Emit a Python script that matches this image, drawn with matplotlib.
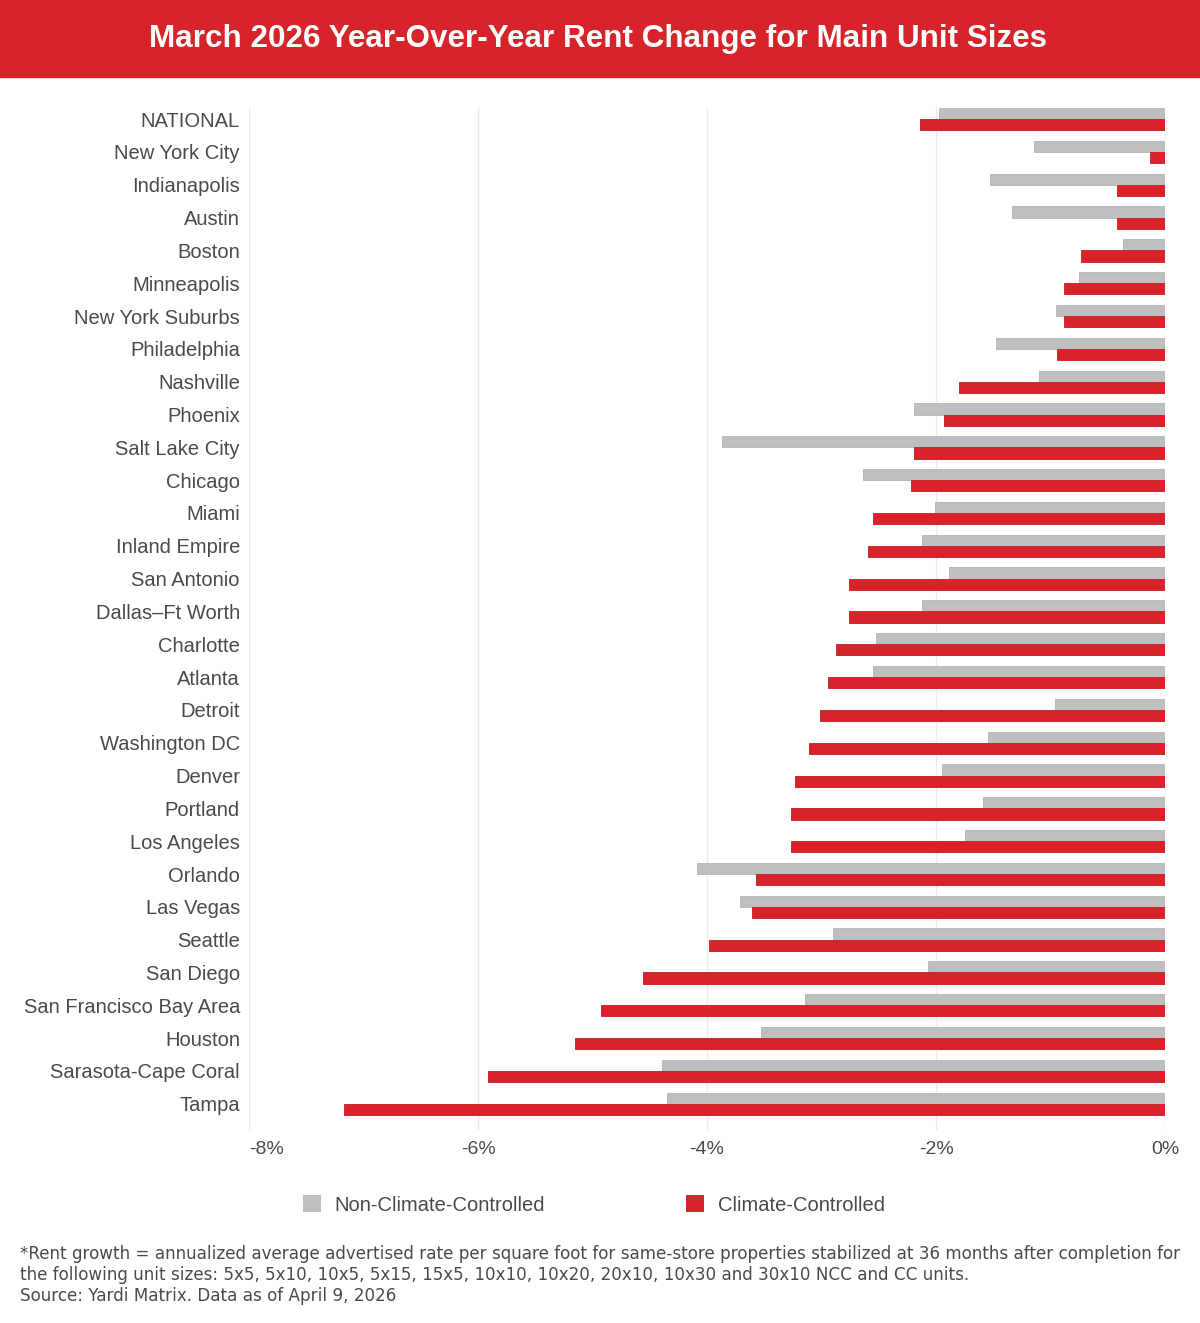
import matplotlib
matplotlib.use("Agg")
import matplotlib.pyplot as plt
import numpy as np
from matplotlib.patches import Rectangle, Patch

# --- data (percent YoY change) ---
markets = [
    "NATIONAL", "New York City", "Indianapolis", "Austin", "Boston",
    "Minneapolis", "New York Suburbs", "Philadelphia", "Nashville", "Phoenix",
    "Salt Lake City", "Chicago", "Miami", "Inland Empire", "San Antonio",
    "Dallas\u2013Ft Worth", "Charlotte", "Atlanta", "Detroit", "Washington DC",
    "Denver", "Portland", "Los Angeles", "Orlando", "Las Vegas",
    "Seattle", "San Diego", "San Francisco Bay Area", "Houston",
    "Sarasota-Cape Coral", "Tampa",
]
ncc = [-1.97, -1.14, -1.53, -1.34, -0.37, -0.75, -0.95, -1.48, -1.10, -2.19,
       -3.87, -2.64, -2.01, -2.12, -1.89, -2.12, -2.52, -2.55, -0.96, -1.55,
       -1.95, -1.59, -1.75, -4.09, -3.71, -2.90, -2.07, -3.14, -3.53, -4.39,
       -4.35]
cc = [-2.14, -0.13, -0.42, -0.42, -0.73, -0.88, -0.88, -0.94, -1.80, -1.93,
      -2.19, -2.22, -2.55, -2.59, -2.76, -2.76, -2.87, -2.94, -3.01, -3.11,
      -3.23, -3.27, -3.27, -3.57, -3.61, -3.98, -4.56, -4.93, -5.15, -5.91,
      -7.17]
xticks = [-8, -6, -4, -2, 0]
xtick_labels = ["-8%", "-6%", "-4%", "-2%", "0%"]

RED = "#D9232B"
GRAY = "#BFBFBF"
TEXT = "#4a4a4a"
SANS = "Liberation Sans"

W, H = 1200, 1323
fig = plt.figure(figsize=(W / 100, H / 100), dpi=100)

# red title banner
fig.patches.append(Rectangle((0, 1 - 77 / H), 1, 77 / H, transform=fig.transFigure,
                             color="#D7232A", zorder=0))
fig.text(598 / W, 1 - 39 / H, "March 2026 Year-Over-Year Rent Change for Main Unit Sizes",
         ha="center", va="center", color="white", fontsize=22.6, fontweight="bold",
         family=SANS)

ax = fig.add_axes([249 / W, 1 - 1130 / H, 916 / W, 1023 / H])
y = np.arange(len(markets))
h = 0.34
ax.barh(y - h / 2, ncc, height=h, color=GRAY, edgecolor="#b4b4b4", linewidth=0.6, zorder=2)
ax.barh(y + h / 2, cc, height=h, color=RED, edgecolor="#c41d24", linewidth=0.6, zorder=2)

ax.set_xlim(-8, 0)
ax.set_ylim(30.8, -0.37)
ax.set_yticks(y)
ax.set_yticklabels(markets, fontsize=14.5, color=TEXT, family=SANS)
ax.set_xticks(xticks)
ax.set_xticklabels(xtick_labels, fontsize=14, color=TEXT, family=SANS)
ax.get_xticklabels()[0].set_ha("left")
ax.tick_params(axis="both", length=0)
ax.tick_params(axis="y", pad=6.5)
ax.tick_params(axis="x", pad=8)
for s in ax.spines.values():
    s.set_visible(False)
for xv in xticks[:-1]:
    ax.axvline(xv, color="#ececec", linewidth=1, zorder=1)
ax.axvline(0, color="#c8c8c8", linewidth=1, linestyle=(0, (3, 3)), zorder=1)

# legend
handles = [Patch(facecolor=GRAY, label="Non-Climate-Controlled"),
           Patch(facecolor=RED, label="Climate-Controlled")]
fig.legend(handles=handles, loc="center", bbox_to_anchor=(594 / W, 1 - 1205 / H), ncol=2,
           frameon=False, handlelength=0.9, handleheight=0.9, handletextpad=0.7,
           columnspacing=7.0, prop={"family": SANS, "size": 14.5}, labelcolor=TEXT)

note = ("*Rent growth = annualized average advertised rate per square foot for same-store "
        "properties stabilized at 36 months after completion for\n"
        "the following unit sizes: 5x5, 5x10, 10x5, 5x15, 15x5, 10x10, 10x20, 20x10, "
        "10x30 and 30x10 NCC and CC units.\n"
        "Source: Yardi Matrix. Data as of April 9, 2026")
fig.text(20 / W, 1 - 1245 / H, note, ha="left", va="top", fontsize=12.05, color=TEXT,
         family="DejaVu Sans", linespacing=1.23)

fig.savefig("out.png", dpi=100, facecolor="white")
